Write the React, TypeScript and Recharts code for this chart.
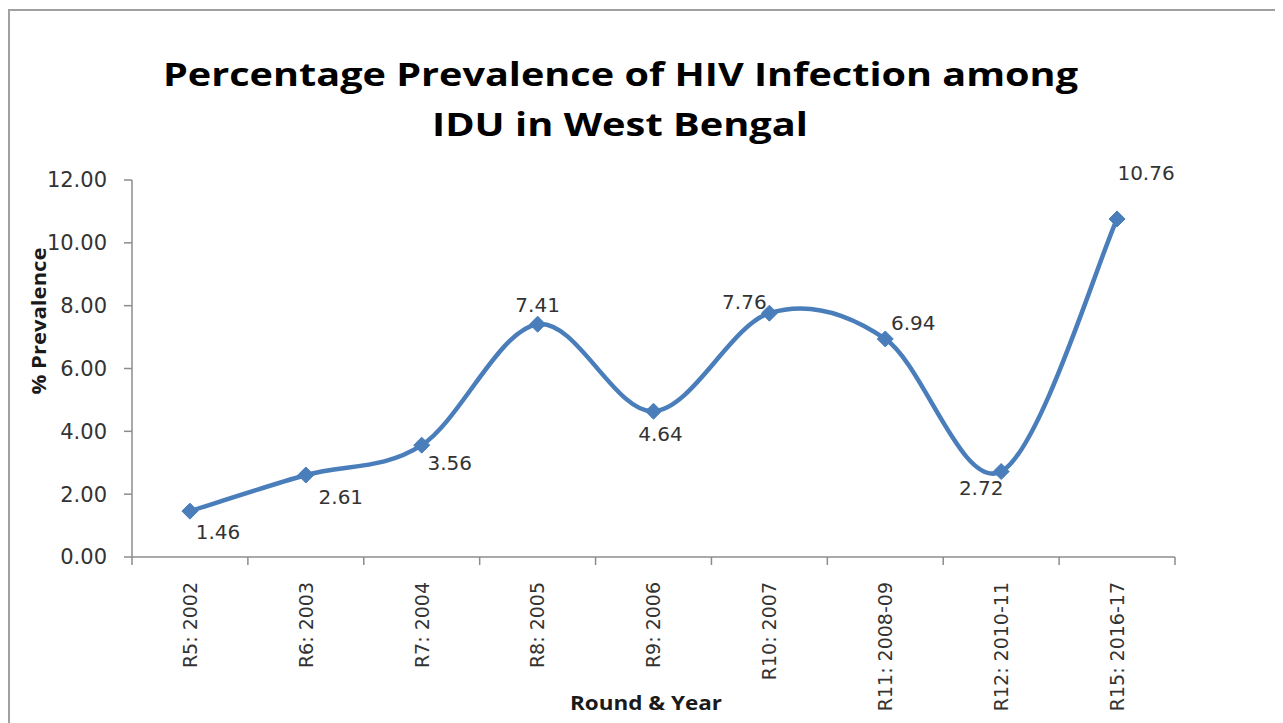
import React from "react";
import { LineChart, Line, XAxis, YAxis, LabelList } from "recharts";

const categories = [
  "R5: 2002",
  "R6: 2003",
  "R7: 2004",
  "R8: 2005",
  "R9: 2006",
  "R10: 2007",
  "R11: 2008-09",
  "R12: 2010-11",
  "R15: 2016-17",
];
const prevalence = [1.46, 2.61, 3.56, 7.41, 4.64, 7.76, 6.94, 2.72, 10.76];
const yTicks = [0, 2, 4, 6, 8, 10, 12];
const titleLines = ["Percentage Prevalence of HIV Infection among", "IDU in West Bengal"];
const yTitle = "% Prevalence";
const xTitle = "Round & Year";

// label placement (dx, dy from the point), styling only
const labelOffsets: [number, number][] = [
  [28, 21],
  [35, 22],
  [28, 18],
  [0, -19],
  [7, 23],
  [-25, -11],
  [28, -16],
  [-20, 16],
  [29, -46],
];

const data = categories.map((c, i) => ({ category: c, value: prevalence[i] }));

const W = 1275;
const H = 715;
const PLOT_LEFT = 124;
const PLOT_RIGHT = 1167;
const PLOT_TOP = 172;
const PLOT_BOTTOM = 549;
const Y_AXIS_W = 100;
const X_AXIS_H = 150;

const LINE_COLOR = "#4A7EBB";
const AXIS_COLOR = "#8c8c8c";
const TEXT_COLOR = "#333333";
const NUM_FONT = "DejaVu Sans";
const TITLE_FONT = "'Open Sans', sans-serif";

// Excel-like smoothed line (Catmull-Rom through the points)
const excelSmooth = (context: any) => {
  let pts: [number, number][] = [];
  return {
    areaStart() {},
    areaEnd() {},
    lineStart() {
      pts = [];
    },
    point(x: number, y: number) {
      pts.push([+x, +y]);
    },
    lineEnd() {
      const n = pts.length;
      if (!n) return;
      context.moveTo(pts[0][0], pts[0][1]);
      if (n === 1) return;
      const t = 1 / 6;
      for (let i = 0; i < n - 1; i++) {
        const p0 = pts[Math.max(i - 1, 0)];
        const p1 = pts[i];
        const p2 = pts[i + 1];
        const p3 = pts[Math.min(i + 2, n - 1)];
        context.bezierCurveTo(
          p1[0] + (p2[0] - p0[0]) * t,
          p1[1] + (p2[1] - p0[1]) * t,
          p2[0] - (p3[0] - p1[0]) * t,
          p2[1] - (p3[1] - p1[1]) * t,
          p2[0],
          p2[1]
        );
      }
    },
  };
};

const Diamond = (props: any) => {
  const { cx, cy } = props;
  if (cx == null || cy == null) return null;
  const r = 8;
  return (
    <polygon
      points={`${cx},${cy - r} ${cx + r},${cy} ${cx},${cy + r} ${cx - r},${cy}`}
      fill={LINE_COLOR}
      stroke={LINE_COLOR}
      strokeWidth={1}
    />
  );
};

const renderLabel = (props: any) => {
  const { x, y, value, index } = props;
  const [dx, dy] = labelOffsets[index] || [0, -15];
  return (
    <text
      x={x + dx}
      y={y + dy}
      textAnchor="middle"
      dominantBaseline="central"
      fontFamily={NUM_FONT}
      fontSize={20}
      fill={TEXT_COLOR}
    >
      {Number(value).toFixed(2)}
    </text>
  );
};

const XTick = (props: any) => {
  const { x, payload, index } = props;
  const half = (PLOT_RIGHT - PLOT_LEFT) / (categories.length * 2);
  const left = x - half;
  const right = x + half;
  return (
    <g>
      <line x1={left} y1={PLOT_BOTTOM} x2={left} y2={PLOT_BOTTOM + 8} stroke={AXIS_COLOR} strokeWidth={1.5} />
      {index === categories.length - 1 && (
        <line x1={right} y1={PLOT_BOTTOM} x2={right} y2={PLOT_BOTTOM + 8} stroke={AXIS_COLOR} strokeWidth={1.5} />
      )}
      <text
        x={x}
        y={PLOT_BOTTOM + 25}
        transform={`rotate(-90, ${x}, ${PLOT_BOTTOM + 25})`}
        textAnchor="end"
        dy="0.36em"
        fontFamily={NUM_FONT}
        fontSize={19}
        fill={TEXT_COLOR}
      >
        {payload.value}
      </text>
    </g>
  );
};

export default function App() {
  return (
    <div style={{ position: "relative", width: W, height: H, background: "#ffffff" }}>
      <div
        style={{
          position: "absolute",
          left: 0,
          top: 1,
          width: W,
          height: H,
          borderLeft: "2px solid #a0a0a0",
          borderTop: "2px solid #a0a0a0",
          boxSizing: "border-box",
        }}
      />
      <div style={{ position: "absolute", left: 0, top: 0 }}>
        <LineChart
          width={W}
          height={H}
          data={data}
          margin={{
            top: PLOT_TOP,
            right: W - PLOT_RIGHT,
            bottom: H - PLOT_BOTTOM - X_AXIS_H,
            left: PLOT_LEFT - Y_AXIS_W,
          }}
        >
          <XAxis
            dataKey="category"
            type="category"
            scale="band"
            interval={0}
            height={X_AXIS_H}
            axisLine={{ stroke: AXIS_COLOR, strokeWidth: 1.5 }}
            tickLine={false}
            tick={<XTick />}
          />
          <YAxis
            type="number"
            domain={[0, 12]}
            ticks={yTicks}
            width={Y_AXIS_W}
            interval={0}
            tickFormatter={(v: number) => v.toFixed(2)}
            axisLine={{ stroke: AXIS_COLOR, strokeWidth: 1.5 }}
            tickLine={{ stroke: AXIS_COLOR, strokeWidth: 1.5 }}
            tickSize={8}
            tickMargin={17}
            tick={{ fill: TEXT_COLOR, fontSize: 21, fontFamily: NUM_FONT }}
          />
          <Line
            dataKey="value"
            type={excelSmooth as any}
            stroke={LINE_COLOR}
            strokeWidth={4.5}
            dot={<Diamond />}
            activeDot={false}
            isAnimationActive={false}
          >
            <LabelList dataKey="value" content={renderLabel} />
          </Line>
        </LineChart>
      </div>
      <svg
        width={W}
        height={H}
        style={{ position: "absolute", left: 0, top: 0, pointerEvents: "none" }}
      >
        <text
          x={155}
          y={78}
          textLength={915}
          lengthAdjust="spacingAndGlyphs"
          fontFamily={TITLE_FONT}
          fontWeight={700}
          fontSize={33}
          fill="#000000"
        >
          {titleLines[0]}
        </text>
        <text
          x={424}
          y={128}
          textLength={376}
          lengthAdjust="spacingAndGlyphs"
          fontFamily={TITLE_FONT}
          fontWeight={700}
          fontSize={33}
          fill="#000000"
        >
          {titleLines[1]}
        </text>
        <text
          x={38}
          y={313}
          transform="rotate(-90, 38, 313)"
          textAnchor="middle"
          textLength={147}
          lengthAdjust="spacingAndGlyphs"
          fontFamily={TITLE_FONT}
          fontWeight={700}
          fontSize={20}
          fill="#1a1a1a"
        >
          {yTitle}
        </text>
        <text
          x={562}
          y={702}
          textLength={152}
          lengthAdjust="spacingAndGlyphs"
          fontFamily={TITLE_FONT}
          fontWeight={700}
          fontSize={20}
          fill="#1a1a1a"
        >
          {xTitle}
        </text>
      </svg>
    </div>
  );
}
